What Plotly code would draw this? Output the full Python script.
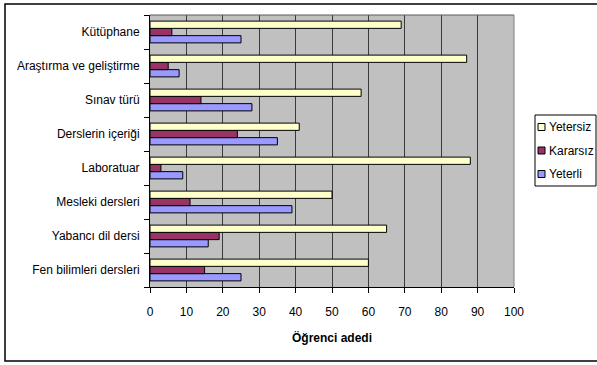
import plotly.graph_objects as go

# Categories listed bottom to top
categories = [
    "Fen bilimleri dersleri",
    "Yabancı dil dersi",
    "Mesleki dersleri",
    "Laboratuar",
    "Derslerin içeriği",
    "Sınav türü",
    "Araştırma ve geliştirme",
    "Kütüphane",
]
yetersiz = [60, 65, 50, 88, 41, 58, 87, 69]
kararsiz = [15, 19, 11, 3, 24, 14, 5, 6]
yeterli = [25, 16, 39, 9, 35, 28, 8, 25]

series_names = ["Yetersiz", "Kararsız", "Yeterli"]
series_colors = ["#FFFFCC", "#993366", "#9999FF"]
series_values = [yetersiz, kararsiz, yeterli]

x_ticks = list(range(0, 101, 10))

font_family = "Liberation Sans, Arial, sans-serif"

fig = go.Figure()
# Horizontal grouped bars put the first trace at the bottom of each group,
# so add the series in reverse
for name, vals, color in reversed(list(zip(series_names, series_values, series_colors))):
    fig.add_trace(go.Bar(
        y=categories, x=vals, name=name, orientation="h",
        marker=dict(color=color, line=dict(color="#000000", width=1)),
        showlegend=False,
    ))

L, R, T, B = 150, 83, 15, 78
W, H = 597, 365
pw, ph = W - L - R, H - T - B

def px_x(p):
    return (p - L) / pw

def px_y(p):
    return (H - B - p) / ph

shapes = [
    # plot area frame (top and right edges)
    dict(type="line", xref="paper", yref="paper", x0=0, x1=1, y0=1, y1=1,
         line=dict(color="#5A5A5A", width=1)),
    dict(type="line", xref="paper", yref="paper", x0=1, x1=1, y0=0, y1=1,
         line=dict(color="#808080", width=1)),
    # chart border
    dict(type="rect", xref="paper", yref="paper",
         x0=px_x(5), x1=px_x(600), y0=px_y(361), y1=px_y(4),
         line=dict(color="#000000", width=1.5), layer="below"),
    # legend box
    dict(type="rect", xref="paper", yref="paper",
         x0=px_x(535), x1=px_x(596), y0=px_y(186), y1=px_y(115),
         line=dict(color="#000000", width=1), fillcolor="#FFFFFF", layer="above"),
]
annotations = []
row_y = [127, 150.5, 174]
for name, color, yc in zip(series_names, series_colors, row_y):
    shapes.append(dict(
        type="rect", xref="paper", yref="paper",
        x0=px_x(538), x1=px_x(545), y0=px_y(yc + 3.5), y1=px_y(yc - 3.5),
        line=dict(color="#000000", width=1), fillcolor=color, layer="above",
    ))
    annotations.append(dict(
        xref="paper", yref="paper", x=px_x(546.5), y=px_y(yc),
        xanchor="left", yanchor="middle", text=name, showarrow=False,
        font=dict(size=12, family=font_family, color="#000000"),
    ))

fig.update_layout(
    width=W, height=H,
    margin=dict(l=L, r=R, t=T, b=B, pad=0, autoexpand=False),
    paper_bgcolor="#FFFFFF",
    plot_bgcolor="#C0C0C0",
    barmode="group",
    bargap=0.36,
    bargroupgap=0,
    font=dict(family=font_family, size=12, color="#000000"),
    showlegend=False,
    xaxis=dict(
        range=[0, 100], tickvals=x_ticks, ticktext=[str(v) for v in x_ticks],
        showgrid=True, gridcolor="#3A3A3A", gridwidth=1,
        zeroline=False, showline=True, linecolor="#000000", linewidth=1,
        ticks="outside", ticklen=5, tickcolor="#000000",
        ticklabelstandoff=9,
        title=dict(text="<b>Öğrenci adedi</b>", font=dict(size=12), standoff=15),
        fixedrange=True,
    ),
    yaxis=dict(
        type="category", categoryorder="array", categoryarray=categories,
        showgrid=False, showline=True, linecolor="#000000", linewidth=1,
        ticks="outside", ticklen=5, tickcolor="#000000", tickson="boundaries",
        ticklabelstandoff=7,
        fixedrange=True,
    ),
    shapes=shapes,
    annotations=annotations,
)

fig.write_html("out.html")
